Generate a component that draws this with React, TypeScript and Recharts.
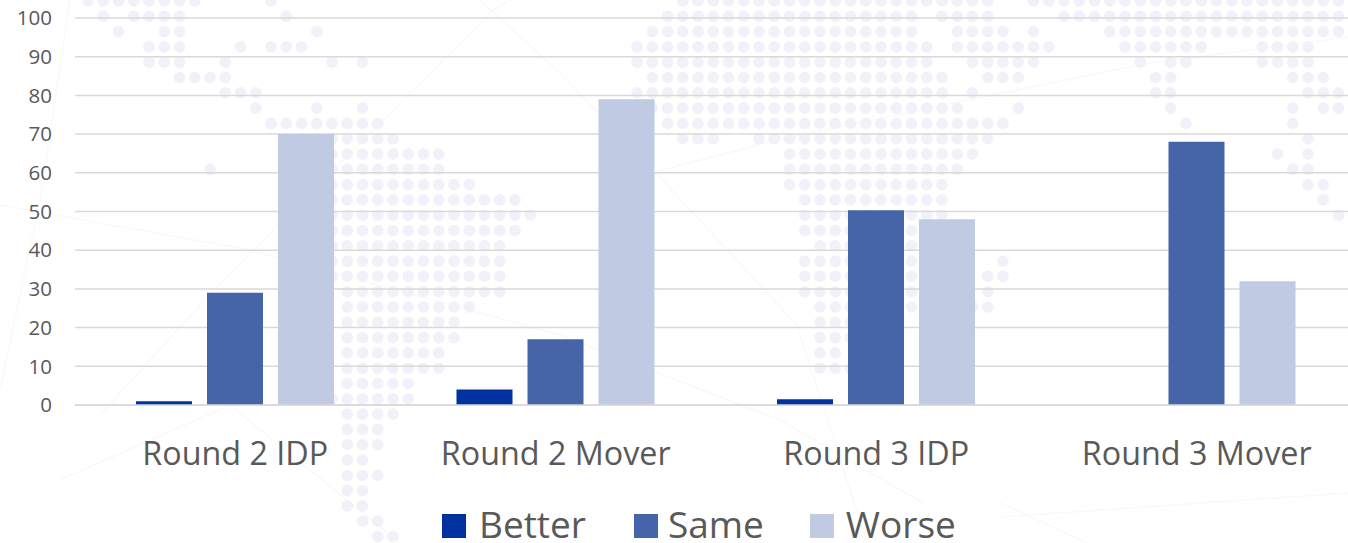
import React from "react";
import { BarChart, Bar, XAxis, YAxis, CartesianGrid, Legend } from "recharts";

const categories = ["Round 2 IDP", "Round 2 Mover", "Round 3 IDP", "Round 3 Mover"];
const better = [1, 4, 1.5, 0];
const same = [29, 17, 50.3, 68];
const worse = [70, 79, 48, 32];
const yTicks = [0, 10, 20, 30, 40, 50, 60, 70, 80, 90, 100];

const rows = categories.map((name, i) => ({ name, Better: better[i], Same: same[i], Worse: worse[i] }));

// Decorative dotted world map behind the chart: per row, runs of [firstColumn, lastColumn]
const mapRuns: number[][][] = [
  [[0, 7], [12, 12], [39, 59], [62, 83]],
  [[1, 1], [3, 6], [13, 13], [38, 54], [56, 59], [64, 82]],
  [[2, 2], [5, 6], [15, 15], [37, 54], [57, 60], [62, 62], [67, 82]],
  [[4, 6], [10, 10], [12, 14], [36, 55], [57, 63], [68, 73], [77, 80]],
  [[4, 6], [9, 9], [16, 16], [18, 18], [36, 55], [58, 62], [69, 69], [71, 72], [77, 80]],
  [[6, 9], [37, 56], [59, 61], [70, 71], [79, 81]],
  [[9, 11], [36, 56], [58, 58], [70, 71], [80, 82]],
  [[11, 11], [15, 15], [18, 18], [37, 57], [61, 61], [71, 71], [79, 79], [81, 82]],
  [[12, 19], [38, 60], [72, 72], [79, 79]],
  [[14, 20], [39, 41], [44, 59], [80, 80]],
  [[16, 23], [46, 58], [78, 78], [80, 80]],
  [[8, 8], [16, 23], [46, 57], [79, 80], [83, 83]],
  [[16, 25], [46, 56], [80, 81], [83, 83]],
  [[16, 28], [47, 56], [81, 81]],
  [[16, 29], [47, 56], [82, 83]],
  [[16, 28], [47, 54]],
  [[16, 27], [48, 54]],
  [[16, 27], [47, 54], [60, 60]],
  [[16, 27], [47, 54], [59, 60]],
  [[17, 27], [47, 54], [59, 59]],
  [[17, 25], [48, 54], [58, 59]],
  [[17, 24], [48, 50]],
  [[17, 24], [48, 50]],
  [[17, 23], [48, 49]],
  [[17, 23], [48, 50]],
  [[17, 21]],
  [[16, 21]],
  [[17, 20]],
  [[17, 19]],
  [[17, 19]],
  [[17, 18]],
  [[17, 19]],
  [[17, 18]],
  [[17, 18]],
  [[18, 19]],
  [[19, 20]],
];

const mapLines = [
  "0,205 250,250 560,335 780,420 923,503",
  "70,0 40,200 0,390",
  "100,415 223,280 493,10 510,0",
  "480,0 560,73 655,172 797,325 867,543",
  "655,172 777,140 953,103 1150,63 1348,37",
  "1000,517 1348,493",
  "1000,503 1087,543",
  "60,480 230,405 400,543",
];

function Backdrop() {
  const dots: React.ReactElement[] = [];
  mapRuns.forEach((runs, r) =>
    runs.forEach(([a, b]) => {
      for (let c = a; c <= b; c++) {
        dots.push(<circle key={r + "-" + c} cx={88 + 15.25 * c} cy={1 + 15.3 * r} r={5.8} fill="#f0f1f9" />);
      }
    })
  );
  return (
    <svg width={1348} height={543} style={{ position: "absolute", left: 0, top: 0, filter: "blur(0.6px)" }}>
      {mapLines.map((p, i) => (
        <polyline key={i} points={p} fill="none" stroke="#f9f9f9" strokeWidth={1.5} />
      ))}
      {dots}
    </svg>
  );
}

const legendGaps: Record<string, number> = { Better: 48, Same: 46, Worse: 0 };
const legendIconGaps: Record<string, number> = { Better: 13, Same: 10, Worse: 12 };

function LegendContent({ payload }: any) {
  return (
    <div style={{ display: "flex", alignItems: "center", fontFamily: "'Open Sans', sans-serif", fontSize: 37, color: "#595959", lineHeight: "38px" }}>
      {(payload || []).map((e: any) => (
        <span key={e.value} style={{ display: "flex", alignItems: "center", marginRight: legendGaps[e.value] }}>
          <span style={{ width: 24, height: 24, background: e.color, marginRight: legendIconGaps[e.value], display: "inline-block", marginTop: 4 }} />
          {e.value}
        </span>
      ))}
    </div>
  );
}

export default function App() {
  return (
    <div style={{ position: "fixed", left: 0, top: 0, width: 1348, height: 543, overflow: "hidden", background: "#fff" }}>
      <Backdrop />
      <div style={{ position: "absolute", left: 0, top: 0 }}>
        <BarChart
          width={1400}
          height={543}
          data={rows}
          margin={{ top: 18, right: 43, bottom: 0, left: 0 }}
          barSize={56}
          barGap={15}
        >
          <CartesianGrid vertical={false} stroke="#d9d9d9" strokeWidth={1.5} />
          <XAxis
            dataKey="name"
            height={138}
            tickLine={false}
            axisLine={{ stroke: "#d9d9d9", strokeWidth: 1.5 }}
            tickMargin={31}
            interval={0}
            tick={{ fontSize: 32.3, fill: "#595959", fontFamily: "'Open Sans', sans-serif" }}
          />
          <YAxis
            width={75}
            domain={[0, 100]}
            ticks={yTicks}
            interval={0}
            tickLine={false}
            axisLine={false}
            tickMargin={17}
            tick={{ fontSize: 20.5, fill: "#595959", fontFamily: "'Open Sans', sans-serif" }}
          />
          <Legend
            verticalAlign="middle"
            align="center"
            layout="horizontal"
            content={<LegendContent />}
            wrapperStyle={{ left: 442, top: 505, width: 600, height: 38 }}
          />
          <Bar dataKey="Better" fill="#0033a0" isAnimationActive={false} />
          <Bar dataKey="Same" fill="#4664a8" isAnimationActive={false} />
          <Bar dataKey="Worse" fill="#c1cae3" isAnimationActive={false} />
        </BarChart>
      </div>
    </div>
  );
}
